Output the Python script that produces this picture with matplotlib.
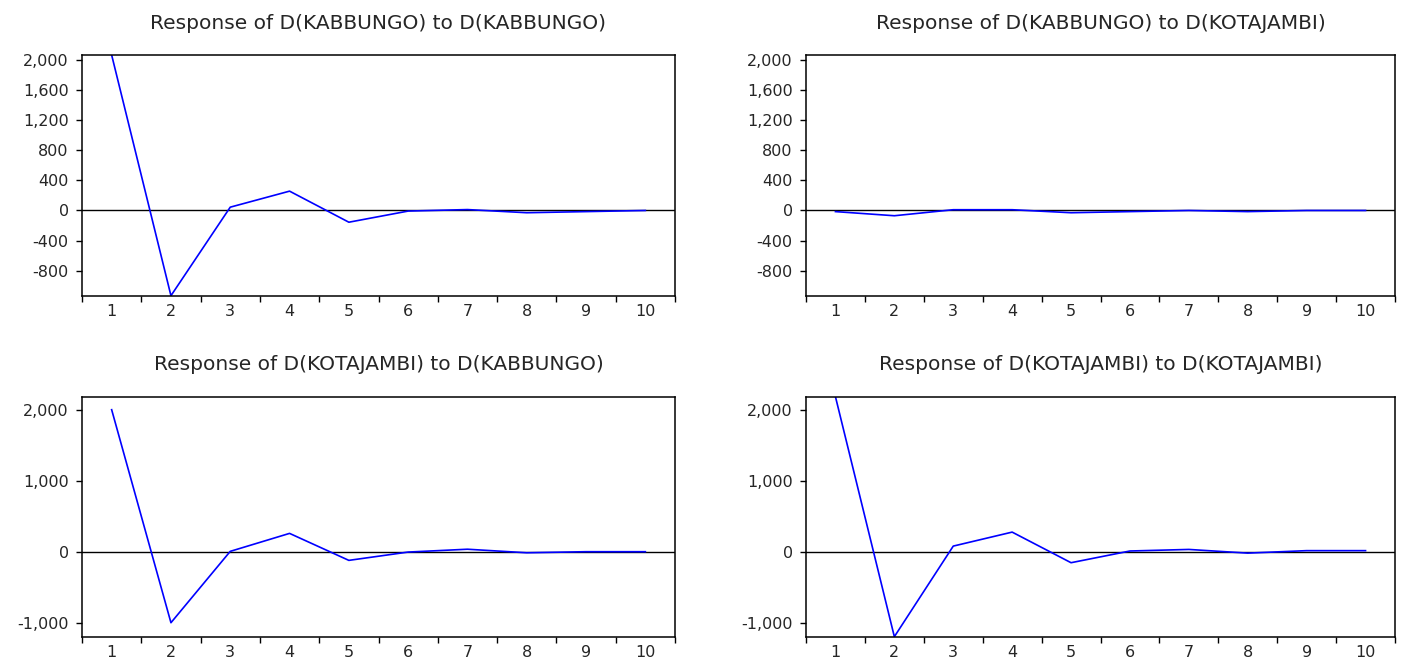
import numpy as np
import matplotlib
matplotlib.use("Agg")
import matplotlib.pyplot as plt
from matplotlib.ticker import FuncFormatter

# ---- data ----
periods = [1, 2, 3, 4, 5, 6, 7, 8, 9, 10]
kab_to_kab = [2067, -1133, 44, 257, -156, -8, 12, -30, -15, 0]
kab_to_kot = [-15, -70, 10, 10, -30, -15, 0, -15, 0, 0]
kot_to_kab = [2000, -1000, 5, 258, -122, -5, 35, -15, 0, 0]
kot_to_kot = [2183, -1197, 79, 276, -155, 10, 32, -20, 15, 15]

titles = [
    "Response of D(KABBUNGO) to D(KABBUNGO)",
    "Response of D(KABBUNGO) to D(KOTAJAMBI)",
    "Response of D(KOTAJAMBI) to D(KABBUNGO)",
    "Response of D(KOTAJAMBI) to D(KOTAJAMBI)",
]
top_yticks = [-800, -400, 0, 400, 800, 1200, 1600, 2000]
bottom_yticks = [-1000, 0, 1000, 2000]

plt.rcParams["font.family"] = ["DejaVu Sans"]
plt.rcParams["axes.unicode_minus"] = False

W, H = 1405, 661
fig = plt.figure(figsize=(W / 100, H / 100), dpi=100)

def px_axes(x0, x1, y0, y1):
    return fig.add_axes([x0 / W, 1 - y1 / H, (x1 - x0) / W, (y1 - y0) / H])

panels = [
    (px_axes(82, 675, 55, 295.7), kab_to_kab, titles[0], top_yticks, (kab_to_kab, kab_to_kot)),
    (px_axes(806, 1395, 55, 295.7), kab_to_kot, titles[1], top_yticks, (kab_to_kab, kab_to_kot)),
    (px_axes(82, 675, 396.7, 636.7), kot_to_kab, titles[2], bottom_yticks, (kot_to_kab, kot_to_kot)),
    (px_axes(806, 1395, 396.7, 636.7), kot_to_kot, titles[3], bottom_yticks, (kot_to_kab, kot_to_kot)),
]

fmt = FuncFormatter(lambda v, p: f"{v:,.0f}")

for ax, series, title, yt, row in panels:
    allv = np.concatenate([np.asarray(r, float) for r in row])
    ax.axhline(0, color="black", lw=1.0, zorder=1)
    ax.plot(periods, series, color="#0000ff", lw=1.2, zorder=2)
    ax.set_xlim(0.5, 10.5)
    ax.set_ylim(allv.min(), allv.max())
    ax.set_yticks(yt)
    ax.yaxis.set_major_formatter(fmt)
    ax.set_xticks(np.arange(0.5, 11, 1.0))
    ax.set_xticklabels([])
    ax.set_xticks(periods, minor=True)
    ax.set_xticklabels([str(p) for p in periods], minor=True)
    ax.tick_params(axis="x", which="major", direction="out", length=4.5, width=1.0)
    ax.tick_params(axis="x", which="minor", length=0, pad=6, labelsize=11.5, labelcolor="#262626")
    ax.tick_params(axis="y", direction="out", length=4.5, width=1.0, pad=5,
                   labelsize=11.5, labelcolor="#262626")
    for s in ax.spines.values():
        s.set_linewidth(1.1)
    ax.set_title(title, fontsize=14.5, color="#262626", pad=19)

fig.savefig("out.png", dpi=100)
